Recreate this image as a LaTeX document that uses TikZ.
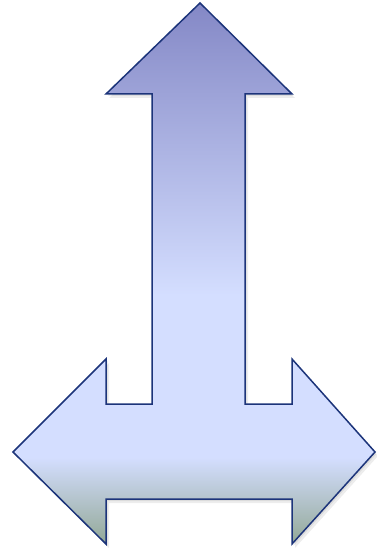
\documentclass[tikz,border=0pt]{standalone}
\usetikzlibrary{calc}
\definecolor{arrtop}{RGB}{132,136,198}
\definecolor{arrmid}{RGB}{212,222,255}
\definecolor{arrbot}{RGB}{146,168,150}
\definecolor{arredge}{RGB}{28,52,122}
\pgfdeclareverticalshading{tarrow}{100bp}{color(0bp)=(arrbot); color(25bp)=(arrbot); color(33bp)=(arrmid); color(48bp)=(arrmid); color(75bp)=(arrtop); color(100bp)=(arrtop)}
\newcommand{\tarrowpath}{(200,3) -- (292,94) -- (245,94) -- (245,404) -- (292,404) -- (292,359) -- (375,452) -- (292,544) -- (292,499) -- (106,499) -- (106,544) -- (13,452) -- (106,359) -- (106,404) -- (152,404) -- (152,94) -- (106,94) -- cycle}

\begin{document}
\begin{tikzpicture}[x=0.5pt,y=-0.5pt,
  arrowbody/.style={shading=tarrow,draw=arredge,line width=0.75pt,line join=miter},
  arrowshadow/.style={fill=black,opacity=0.07}]
  \useasboundingbox (0,0) rectangle (376,550);
  % soft drop shadow
  \fill[arrowshadow,shift={(1.5,2)}] \tarrowpath;
  \fill[arrowshadow,shift={(3,4)}] \tarrowpath;
  % the three-way arrow
  \path[arrowbody] \tarrowpath;
\end{tikzpicture}
\end{document}
